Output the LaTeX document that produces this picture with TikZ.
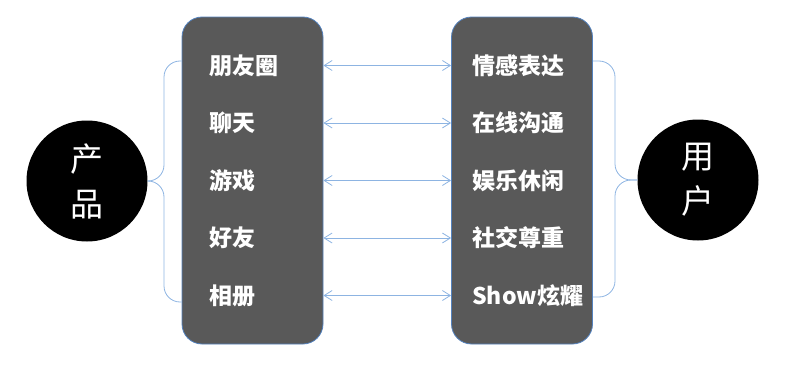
\documentclass[tikz,border=0pt]{standalone}
\usepackage{fontspec}
\newfontfamily\cjk{Noto Sans CJK SC}
\usepackage{tikz}
\usetikzlibrary{arrows.meta,positioning}
\definecolor{boxgray}{RGB}{89,89,89}
\definecolor{boxline}{RGB}{84,130,190}
\definecolor{linkblue}{RGB}{141,180,226}
\tikzset{
  colbox/.style={rectangle,rounded corners=20pt,draw=boxline,fill=boxgray,
                 minimum width=141pt,minimum height=327pt,line width=0.8pt},
  item/.style={anchor=west,text=white,inner sep=0pt,
               font=\cjk\bfseries\fontsize{23}{26}\selectfont},
  hub/.style={circle,fill=black,minimum size=121pt,text=white,align=center,
              font=\cjk\fontsize{33}{45}\selectfont},
  link/.style={{Straight Barb[length=8pt,width=10pt]}-{Straight Barb[length=8pt,width=10pt]},
               draw=linkblue,line width=0.8pt},
  brace/.style={draw=linkblue,line width=0.8pt,rounded corners=16pt},
}
\begin{document}
\begin{tikzpicture}[x=1pt,y=-1pt]
  \useasboundingbox (0,0) rectangle (788,372);
  \node[colbox] (lbox) at (252.5,180.5) {};
  \node[colbox] (rbox) at (522,180.5) {};
  \node[hub] (prod) at (87,181) {产\\品};
  \node[hub] (user) at (698,180) {用\\户};
  % left and right items
  \foreach \t [count=\i] in {朋友圈,聊天,游戏,好友,相册}
    \node[item] (l\i) at (209,{8+57.5*\i}) {\t};
  \foreach \t [count=\i] in {情感表达,在线沟通,娱乐休闲,社交尊重,Show炫耀}
    \node[item] (r\i) at (472,{8+57.5*\i}) {\t};
  \foreach \i in {1,...,5}
    \draw[link] (lbox.east |- l\i) -- (rbox.west |- r\i);
  % braces
  \draw[brace] (lbox.west |- 0,61) -- (164,61) -- (164,181) -- (prod.east);
  \draw[brace] (prod.east) -- (164,181) -- (164,302) -- (lbox.west |- 0,302);
  \draw[brace] (rbox.east |- 0,61) -- (615,61) -- (615,180) -- (user.west);
  \draw[brace] (user.west) -- (615,180) -- (615,297) -- (rbox.east |- 0,297);
\end{tikzpicture}
\end{document}
